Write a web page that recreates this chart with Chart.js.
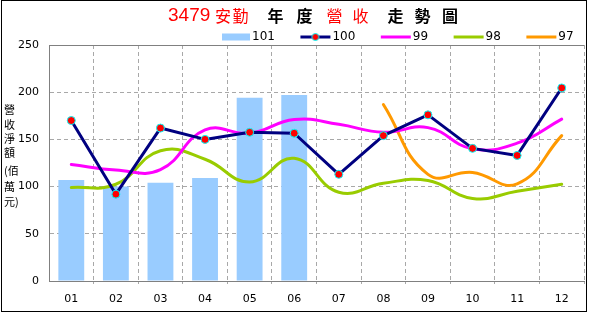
<!DOCTYPE html>
<html>
<head>
<meta charset="utf-8">
<script src="https://cdn.jsdelivr.net/npm/chart.js@4/dist/chart.umd.min.js"></script>
<style>
  html, body { margin: 0; padding: 0; background: #fff; }
  canvas { display: block; }
</style>
</head>
<body>
<canvas id="revChart" width="589" height="314"></canvas>
<script>
// ── data (百萬元) ──
const months  = ['01', '02', '03', '04', '05', '06', '07', '08', '09', '10', '11', '12'];
const rev101  = [107, 100, 104, 109, 194, 197, null, null, null, null, null, null];
const rev100  = [170, 92, 162, 150, 157.5, 156.5, 113, 154, 176, 140.5, 133, 204.5];
const rev99   = [123.5, 117.5, 118, 160, 156.5, 171, 166, 157.5, 162.5, 140, 146, 171.5];
const rev98   = [99, 102.5, 138, 129, 105, 130, 94, 103.5, 106.5, 87.5, 95, 102.5];
const rev97   = [null, null, null, null, null, null, null, 187, 113, 115, 103, 154];
const yTicks  = [0, 50, 100, 150, 200, 250];
const yTitle  = ['營', '收', '淨', '額', '(佰', '萬', '元)'];
const titleParts = [
  { t: '3479', red: true }, { t: '安', red: true }, { t: '勤', red: true },
  { t: '年' }, { t: '度' }, { t: '營', red: true }, { t: '收', red: true },
  { t: '走' }, { t: '勢' }, { t: '圖' }
];

// legend swatches (little canvases used as pointStyle)
function swatch(kind, color) {
  const c = document.createElement('canvas');
  c.width = 40; c.height = 12;
  const g = c.getContext('2d');
  if (kind === 'bar') {
    g.fillStyle = color;
    g.fillRect(11, 2.5, 28, 7);
  } else {
    g.strokeStyle = color; g.lineWidth = 3;
    g.beginPath(); g.moveTo(9, 6); g.lineTo(39, 6); g.stroke();
    if (kind === 'marker') {
      g.fillStyle = '#ff0000'; g.strokeStyle = '#00ffff'; g.lineWidth = 1;
      g.beginPath(); g.arc(24, 6, 3.5, 0, Math.PI * 2); g.fill(); g.stroke();
    }
  }
  return c;
}

const datasets = [
  { type: 'bar', label: '101', data: rev101, backgroundColor: '#99ccff',
    barPercentage: 0.58, categoryPercentage: 1, order: 10, _sw: swatch('bar', '#99ccff') },
  { type: 'line', label: '100', data: rev100, borderColor: '#000080', borderWidth: 3, tension: 0,
    pointRadius: 4, pointBackgroundColor: '#ff0000', pointBorderColor: '#00ffff', pointBorderWidth: 1,
    order: 1, _sw: swatch('marker', '#000080') },
  { type: 'line', label: '99', data: rev99, borderColor: '#ff00ff', borderWidth: 3, tension: 0.45,
    pointRadius: 0, order: 2, _sw: swatch('line', '#ff00ff') },
  { type: 'line', label: '98', data: rev98, borderColor: '#99cc00', borderWidth: 3, tension: 0.45,
    pointRadius: 0, order: 3, _sw: swatch('line', '#99cc00') },
  { type: 'line', label: '97', data: rev97, borderColor: '#ff9900', borderWidth: 3, tension: 0.45,
    pointRadius: 0, order: 4, _sw: swatch('line', '#ff9900') }
];
datasets.forEach(d => { if (d.type === 'line') { d.fill = false; d.borderCapStyle = 'round'; d.borderJoinStyle = 'round'; } });

const LEG_PAD = 21.5;

const decor = {
  id: 'decor',
  beforeDraw(chart) {
    const ctx = chart.ctx;
    ctx.save();
    ctx.fillStyle = '#fff';
    ctx.fillRect(0, 0, chart.width, chart.height);
    ctx.restore();
  },
  afterLayout(chart) {
    // push the legend row to the right like the original
    const lg = chart.legend;
    const dx = 216 - LEG_PAD - lg.left;
    lg.left += dx; lg.right += dx;
  },
  afterDraw(chart) {
    const ctx = chart.ctx;
    ctx.save();
    // title
    const xs = [168, 215, 232.5, 267.5, 296.5, 326.5, 352.5, 387.5, 414.5, 442];
    ctx.textBaseline = 'middle';
    ctx.textAlign = 'left';
    titleParts.forEach((p, i) => {
      ctx.fillStyle = p.red ? '#ff0000' : '#000000';
      if (p.t === '3479') ctx.font = '19px "Liberation Sans", sans-serif';
      else ctx.font = (p.red ? '' : 'bold ') + '16px "Noto Sans CJK TC", sans-serif';
      ctx.fillText(p.t, xs[i], 15.5);
    });
    // stacked y-axis title
    const ys = [110, 124.5, 139, 153, 171, 187, 202];
    ctx.font = '11px "Noto Sans CJK TC", sans-serif';
    ctx.fillStyle = '#000';
    yTitle.forEach((t, i) => ctx.fillText(t, 4, ys[i]));
    // outer frame
    ctx.strokeStyle = '#000';
    ctx.lineWidth = 1;
    ctx.strokeRect(1.5, 0.5, 585, 311);
    ctx.restore();
  }
};

new Chart(document.getElementById('revChart'), {
  type: 'bar',
  data: { labels: months, datasets },
  options: {
    responsive: false,
    animation: false,
    devicePixelRatio: 1,
    events: [],
    layout: { padding: { top: 9.5, right: 4, bottom: 0, left: 0 } },
    plugins: {
      title: { display: false },
      tooltip: { enabled: false },
      legend: {
        position: 'top',
        align: 'start',
        maxHeight: 35.5,
        labels: {
          usePointStyle: true,
          pointStyleWidth: 30,
          boxHeight: 12,
          padding: LEG_PAD,
          color: '#000',
          font: { family: 'DejaVu Sans', size: 12 },
          generateLabels: chart => chart.data.datasets.map((ds, i) => ({
            text: ds.label, pointStyle: ds._sw, fillStyle: 'transparent',
            strokeStyle: 'transparent', lineWidth: 0, hidden: false, datasetIndex: i, fontColor: '#000'
          }))
        }
      }
    },
    scales: {
      x: {
        offset: true,
        afterFit: s => { s.height = 33; },
        grid: {
          offset: true,
          color: c => (c.index === 0 || c.index >= 12) ? 'rgba(0,0,0,0)' : '#a8a8a8',
          tickColor: c => (c.index === 0 || c.index >= 12) ? 'rgba(0,0,0,0)' : '#a8a8a8',
          drawTicks: true,
          tickLength: 4,
          tickBorderDash: [2, 2]
        },
        border: { color: '#808080', width: 1, dash: [4, 3] },
        ticks: { color: '#000', padding: 8, font: { family: 'DejaVu Sans', size: 11 } }
      },
      y: {
        min: 0,
        max: 250,
        afterFit: s => { s.width = 49; },
        afterBuildTicks: s => { s.ticks = yTicks.map(v => ({ value: v })); },
        grid: {
          drawTicks: false,
          color: c => {
            if (!c.tick) return '#a8a8a8';
            if (c.tick.value === 0) return 'rgba(0,0,0,0)';
            return c.tick.value === 250 ? '#808080' : '#a8a8a8';
          }
        },
        border: {
          color: '#808080', width: 1,
          dash: c => (c.tick && c.tick.value === 250) ? [] : [4, 3]
        },
        ticks: { color: '#000', padding: 10, font: { family: 'DejaVu Sans', size: 11 } }
      }
    }
  },
  plugins: [decor]
});
</script>
</body>
</html>
